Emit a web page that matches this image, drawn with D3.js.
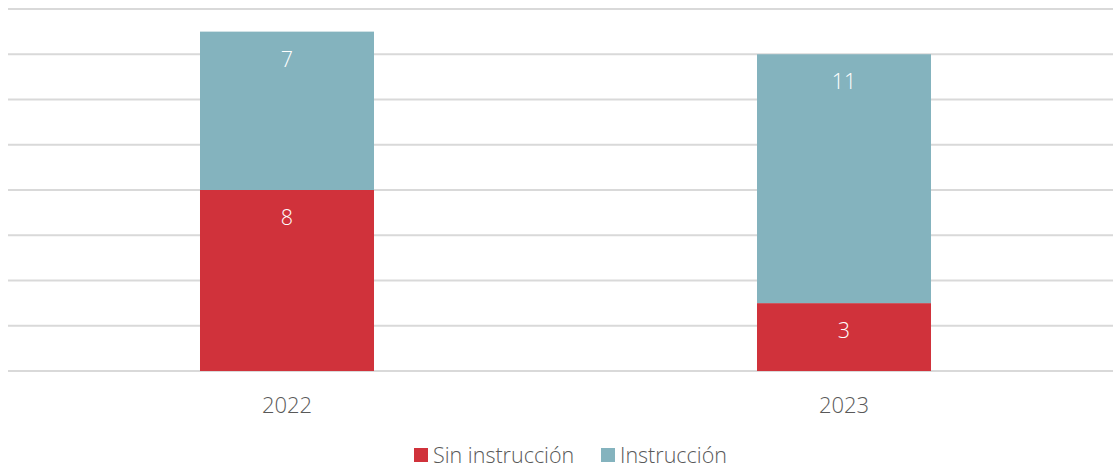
<!DOCTYPE html>
<html>
<head>
<meta charset="utf-8">
<script src="https://cdn.jsdelivr.net/npm/d3@7"></script>
<style>
  html, body { margin: 0; padding: 0; background: #fff; }
  svg { display: block; font-family: "Open Sans", sans-serif; font-weight: 300; }
</style>
</head>
<body>
<svg id="chart" width="1113" height="468"></svg>
<script>
const categories = ["2022", "2023"];
const seriesNames = ["Sin instrucción", "Instrucción"];
const sinInstruccion = [8, 3];
const instruccion = [7, 11];
const yTicks = [0, 2, 4, 6, 8, 10, 12, 14, 16];
const colors = ["#d0323b", "#84b3be"];

const svg = d3.select("#chart");
const x = d3.scaleBand().domain(categories).range([8, 1123]).paddingInner(0.6876).paddingOuter(0.3447);
const y = d3.scaleLinear().domain([0, 16]).range([371, 9]);

// gridlines
svg.append("g").selectAll("line").data(yTicks).join("line")
  .attr("x1", 8).attr("x2", 1113)
  .attr("y1", d => y(d)).attr("y2", d => y(d))
  .attr("stroke", "#d9d9d9").attr("stroke-width", 2);

const rows = categories.map((c, i) => ({ cat: c, "Sin instrucción": sinInstruccion[i], "Instrucción": instruccion[i] }));
const stack = d3.stack().keys(seriesNames)(rows);

const groups = svg.append("g").selectAll("g").data(stack).join("g")
  .attr("fill", (d, i) => colors[i]);
groups.selectAll("rect").data(d => d).join("rect")
  .attr("x", d => x(d.data.cat))
  .attr("width", x.bandwidth())
  .attr("y", d => y(d[1]))
  .attr("height", d => y(d[0]) - y(d[1]));

// value labels
groups.selectAll("text").data(d => d).join("text")
  .attr("x", d => x(d.data.cat) + x.bandwidth() / 2)
  .attr("y", d => y(d[1]) + 35)
  .attr("text-anchor", "middle")
  .attr("fill", "#ffffff")
  .attr("font-size", 21.5)
  .text(d => d[1] - d[0]);

// x axis labels
svg.append("g").selectAll("text").data(categories).join("text")
  .attr("x", d => x(d) + x.bandwidth() / 2)
  .attr("y", 413)
  .attr("text-anchor", "middle")
  .attr("fill", "#595959")
  .attr("font-size", 22)
  .text(d => d);

// legend
const legendX = [414, 601];
const leg = svg.append("g").selectAll("g").data(seriesNames).join("g")
  .attr("transform", (d, i) => `translate(${legendX[i]},448)`);
leg.append("rect").attr("width", 14).attr("height", 14).attr("fill", (d, i) => colors[i]);
leg.append("text").attr("x", 19).attr("y", 15).attr("fill", "#595959").attr("font-size", 21.5).text(d => d);
</script>
</body>
</html>
